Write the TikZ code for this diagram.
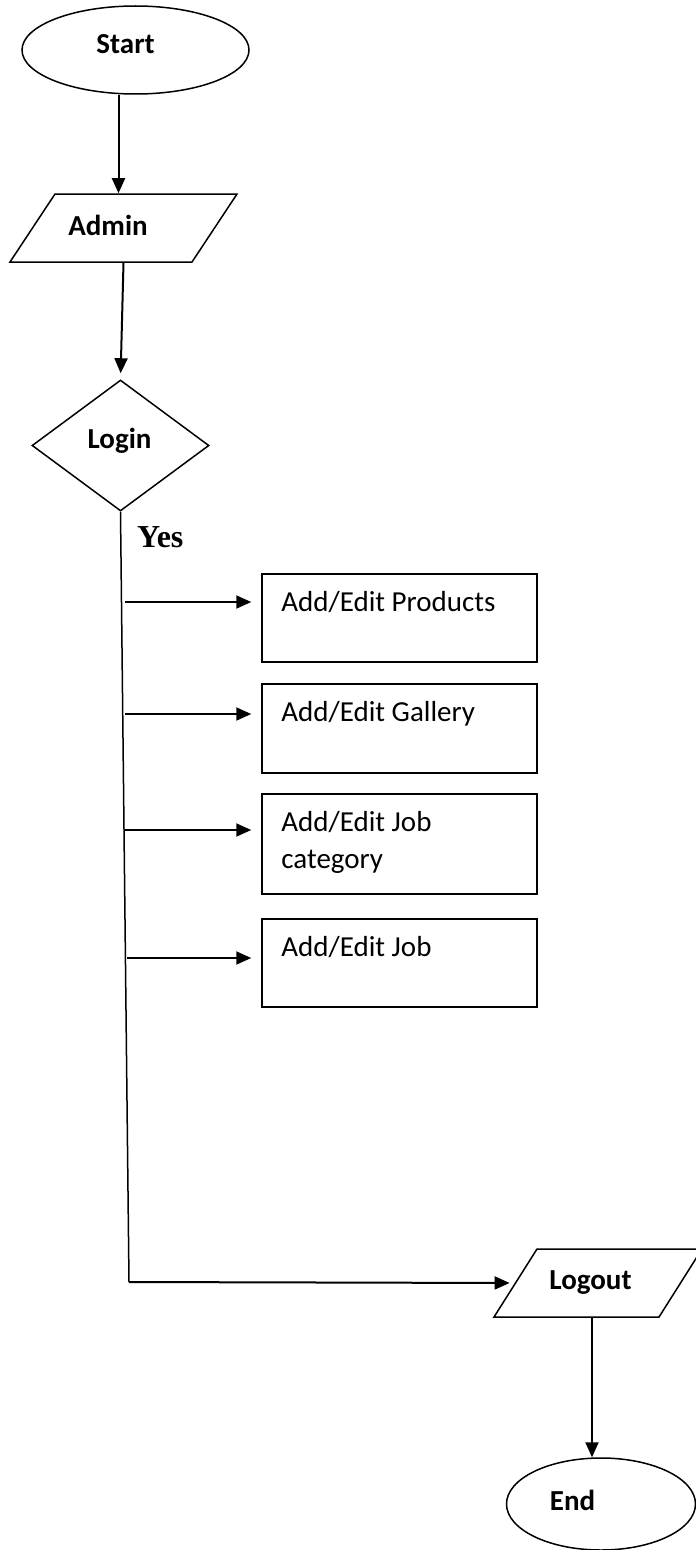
\documentclass[tikz,border=0pt]{standalone}
\usepackage{fontspec}
\setmainfont{Carlito}
\newfontfamily\yesfont{Liberation Serif}
\usepackage{tikz}
\usetikzlibrary{shapes.geometric,arrows.meta,calc}

\begin{document}
\begin{tikzpicture}[x=1bp, y=-1bp, ->, >={Triangle[length=15bp,width=13bp]},
    every node/.style={font=\fontsize{29bp}{37bp}\selectfont},
    flow/.style={line width=2bp},
    term/.style={draw, ellipse, line width=1.5bp, inner sep=0pt},
    io/.style={draw, trapezium, line width=1.5bp, inner ysep=34bp},
    decide/.style={draw, diamond, line width=1.5bp, inner sep=0pt},
    label/.style={anchor=base, inner sep=0pt, font=\fontsize{29bp}{34bp}\selectfont\bfseries},
    task/.style={draw, rectangle, line width=1.5bp, inner sep=0pt, minimum width=275bp},
    tasktext/.style={anchor=north west, inner sep=0pt, align=left}]
  \useasboundingbox (0,0) rectangle (696,1550);

  \node[term, minimum width=227bp, minimum height=88bp] (start) at (135.5,50) {};
  \node[io, inner xsep=68.5bp, trapezium left angle=56.5, trapezium right angle=123.5] (admin) at (123.5,228) {};
  \node[decide, minimum width=177bp, minimum height=131bp] (login) at (120.5,445.5) {};
  \node[io, inner xsep=61bp, trapezium left angle=57.7, trapezium right angle=122.3] (logout) at (598,1283) {};
  \node[term, minimum width=189bp, minimum height=92bp] (end) at (601,1504) {};

  \node[label] (startt) at (125.5,54) {Start};
  \node[label] (admint) at (108,235) {Admin};
  \node[label] (logint) at (119.5,448) {Login};
  \node[label] (logoutt) at (590.5,1289) {Logout};
  \node[label] (endt) at (572.5,1510) {End};
  \node[anchor=base west, inner sep=0pt, font=\fontsize{32bp}{34bp}\yesfont\bfseries] (yes) at (137,547) {Yes};

  % admin tasks
  \node[task, minimum height=88bp] (prod) at (399.5,618) {};
  \node[task, minimum height=89bp] (gall) at (399.5,728.5) {};
  \node[task, minimum height=100bp] (cat) at (399.5,844) {};
  \node[task, minimum height=88bp] (job) at (399.5,963) {};
  \node[tasktext] (prodt) at ([shift={(20bp,-18bp)}]prod.north west) {Add/Edit Products};
  \node[tasktext] (gallt) at ([shift={(20bp,-18bp)}]gall.north west) {Add/Edit Gallery};
  \node[tasktext] (catt) at ([shift={(20bp,-18bp)}]cat.north west) {Add/Edit Job\\category};
  \node[tasktext] (jobt) at ([shift={(20bp,-18bp)}]job.north west) {Add/Edit Job};

  \coordinate (corner) at (129,1282);
  \coordinate (b1) at (125,602);
  \coordinate (b2) at (125,714);
  \coordinate (b3) at (125,830);
  \coordinate (b4) at (127,958);

  \draw[flow] ([xshift=-5bp]admin.north |- start.south) -- ([xshift=-5bp]admin.north);
  \draw[flow, shorten >=6bp] (admin.south) -- (login.north);
  \draw[-, line width=1.5bp] (login.south) -- (corner);
  \draw[flow, shorten >=5bp] (corner) -- (logout.west);
  \foreach \b/\t in {b1/prod, b2/gall, b3/cat, b4/job}
    \draw[flow, shorten >=10bp] (\b) -- (\b -| \t.west);
  \draw[flow] ([xshift=-6bp]logout.south) -- ([xshift=-6bp]logout.south |- end.north);
\end{tikzpicture}
\end{document}
